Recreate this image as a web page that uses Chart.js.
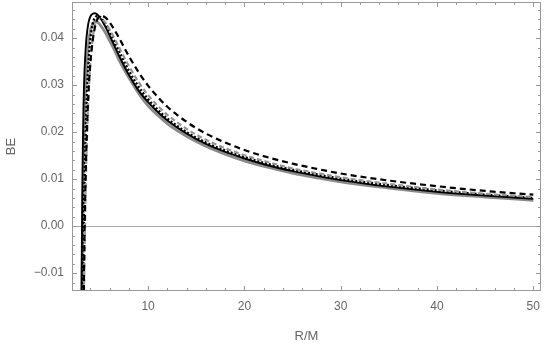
<!DOCTYPE html>
<html>
<head>
<meta charset="utf-8">
<script src="https://cdn.jsdelivr.net/npm/chart.js@4/dist/chart.umd.min.js"></script>
<style>
  html, body { margin: 0; padding: 0; background: #fff; }
  #wrap { width: 545px; height: 348px; }
</style>
</head>
<body>
<div id="wrap"><canvas id="myChart"></canvas></div>
<script>
// R/M values shared by all curves
const rValues = [3.05, 3.1, 3.15, 3.2, 3.25, 3.3, 3.35, 3.4, 3.5, 3.6, 3.8, 4.0, 4.25, 4.5, 4.75, 5.0, 5.5, 6, 6.5, 7, 8, 9, 10, 11, 12, 14, 16, 18, 20, 22.5, 25, 27.5, 30, 35, 40, 45, 50];

const graySolid = [-0.06, -0.025, -0.012, -0.003, 0.006, 0.014, 0.018, 0.022, 0.028, 0.032, 0.0385, 0.0415, 0.0430, 0.0435, 0.0434, 0.0429, 0.0414, 0.0395, 0.0375, 0.0353, 0.0316, 0.0283, 0.0256, 0.0236, 0.0218, 0.0191, 0.0170, 0.0153, 0.0139, 0.0125, 0.0113, 0.0103, 0.0094, 0.0081, 0.0070, 0.0062, 0.0055];
const blackSolid = [-0.03, -0.01, 0.002, 0.013, 0.020, 0.026, 0.030, 0.033, 0.037, 0.040, 0.0432, 0.0446, 0.0452, 0.0453, 0.0450, 0.0444, 0.0427, 0.0406, 0.0384, 0.0362, 0.0322, 0.0289, 0.0264, 0.0243, 0.0225, 0.0197, 0.0175, 0.0158, 0.0144, 0.0129, 0.0117, 0.0107, 0.0098, 0.0084, 0.0073, 0.0065, 0.0058];
const blackDotted = [null, -0.06, -0.04, -0.025, -0.012, -0.004, 0.003, 0.009, 0.018, 0.025, 0.034, 0.0395, 0.0430, 0.0444, 0.0447, 0.0445, 0.0433, 0.0414, 0.0393, 0.0372, 0.0331, 0.0297, 0.0270, 0.0248, 0.0229, 0.0200, 0.0178, 0.0161, 0.0147, 0.0132, 0.0120, 0.0110, 0.0101, 0.0087, 0.0076, 0.0067, 0.0060];
const grayDashed = [null, null, null, -0.06, -0.04, -0.025, -0.014, -0.006, 0.006, 0.015, 0.027, 0.0345, 0.0400, 0.0430, 0.0441, 0.0442, 0.0435, 0.0419, 0.0400, 0.0380, 0.0341, 0.0307, 0.0279, 0.0256, 0.0237, 0.0207, 0.0184, 0.0166, 0.0151, 0.0136, 0.0123, 0.0113, 0.0104, 0.0090, 0.0078, 0.0069, 0.0062];
const blackDashed = [null, null, null, -0.05, -0.033, -0.02, -0.01, -0.002, 0.009, 0.017, 0.028, 0.0345, 0.0395, 0.0425, 0.0441, 0.0447, 0.0445, 0.0434, 0.0418, 0.0400, 0.0362, 0.0328, 0.0299, 0.0275, 0.0254, 0.0222, 0.0197, 0.0178, 0.0162, 0.0146, 0.0133, 0.0122, 0.0112, 0.0097, 0.0085, 0.0075, 0.0067];

const xTicks = [10, 20, 30, 40, 50];
const yTicks = [-0.01, 0, 0.01, 0.02, 0.03, 0.04];

function pts(ys) {
  return rValues.map((r, i) => ({ x: r, y: ys[i] }));
}

const frameColor = '#999';
const textColor = '#666';

// Mathematica-like frame with inward ticks, plus the y=0 axis line
const framePlugin = {
  id: 'framePlugin',
  beforeDatasetsDraw(chart) {
    const { ctx, chartArea: a, scales } = chart;
    const y0 = Math.round(scales.y.getPixelForValue(0)) + 0.5;
    ctx.save();
    ctx.strokeStyle = '#aaa';
    ctx.lineWidth = 1;
    ctx.beginPath();
    ctx.moveTo(a.left, y0);
    ctx.lineTo(a.right, y0);
    ctx.stroke();
    ctx.restore();
  },
  afterDatasetsDraw(chart) {
    const { ctx, chartArea: a, scales } = chart;
    const xs = scales.x, ys = scales.y;
    ctx.save();
    ctx.strokeStyle = frameColor;
    ctx.lineWidth = 1;
    ctx.strokeRect(a.left + 0.5, a.top + 0.5, a.right - a.left - 1, a.bottom - a.top - 1);
    ctx.beginPath();
    for (let v = 2; v <= 52; v += 2) {
      if (v < xs.min || v > xs.max) continue;
      const len = v % 10 === 0 ? 5 : 3;
      const px = Math.round(xs.getPixelForValue(v)) + 0.5;
      ctx.moveTo(px, a.bottom);
      ctx.lineTo(px, a.bottom - len);
      ctx.moveTo(px, a.top);
      ctx.lineTo(px, a.top + len);
    }
    for (let k = -7; k <= 24; k++) {
      const v = k * 0.002;
      if (v < ys.min || v > ys.max) continue;
      const len = k % 5 === 0 ? 5 : 3;
      const py = Math.round(ys.getPixelForValue(v)) + 0.5;
      ctx.moveTo(a.left, py);
      ctx.lineTo(a.left + len, py);
      ctx.moveTo(a.right, py);
      ctx.lineTo(a.right - len, py);
    }
    ctx.stroke();
    ctx.restore();
  }
};

new Chart('myChart', {
  type: 'line',
  data: {
    datasets: [
      { data: pts(blackDashed), borderColor: '#000', borderWidth: 2.2, borderDash: [6, 4] },
      { data: pts(grayDashed), borderColor: '#959595', borderWidth: 2.2, borderDash: [5, 3] },
      { data: pts(blackDotted), borderColor: '#000', borderWidth: 2.4, borderDash: [2, 2] },
      { data: pts(blackSolid), borderColor: '#000', borderWidth: 1.9 },
      { data: pts(graySolid), borderColor: '#8a8a8a', borderWidth: 2.8 }
    ].map(d => Object.assign(d, { pointRadius: 0, fill: false, cubicInterpolationMode: 'monotone', spanGaps: false }))
  },
  options: {
    responsive: true,
    maintainAspectRatio: false,
    animation: false,
    layout: { padding: { left: 0, top: 2, right: 4, bottom: 0 } },
    plugins: { legend: { display: false }, tooltip: { enabled: false } },
    scales: {
      x: {
        type: 'linear',
        min: 2.1,
        max: 50.8,
        grid: { display: false, drawTicks: false },
        border: { display: false },
        afterBuildTicks: s => { s.ticks = xTicks.map(v => ({ value: v })); },
        afterFit: s => { s.height = 57; s.paddingLeft = 0; s.paddingRight = 0; },
        ticks: { padding: 8, color: textColor, font: { family: 'Liberation Sans', size: 12 }, maxRotation: 0 },
        title: { display: true, text: 'R/M', color: textColor, font: { family: 'Liberation Sans', size: 13 } }
      },
      y: {
        min: -0.0138,
        max: 0.0477,
        grid: { display: false, drawTicks: false },
        border: { display: false },
        afterBuildTicks: s => { s.ticks = yTicks.map(v => ({ value: v })); },
        afterFit: s => { s.width = 72; s.paddingTop = 0; s.paddingBottom = 0; },
        ticks: {
          padding: 8, color: textColor, font: { family: 'Liberation Sans', size: 12 },
          callback: v => v.toFixed(2).replace('-', '\u2212')
        },
        title: { display: true, text: 'BE', color: textColor, font: { family: 'Liberation Sans', size: 13 } }
      }
    }
  },
  plugins: [framePlugin]
});
</script>
</body>
</html>
